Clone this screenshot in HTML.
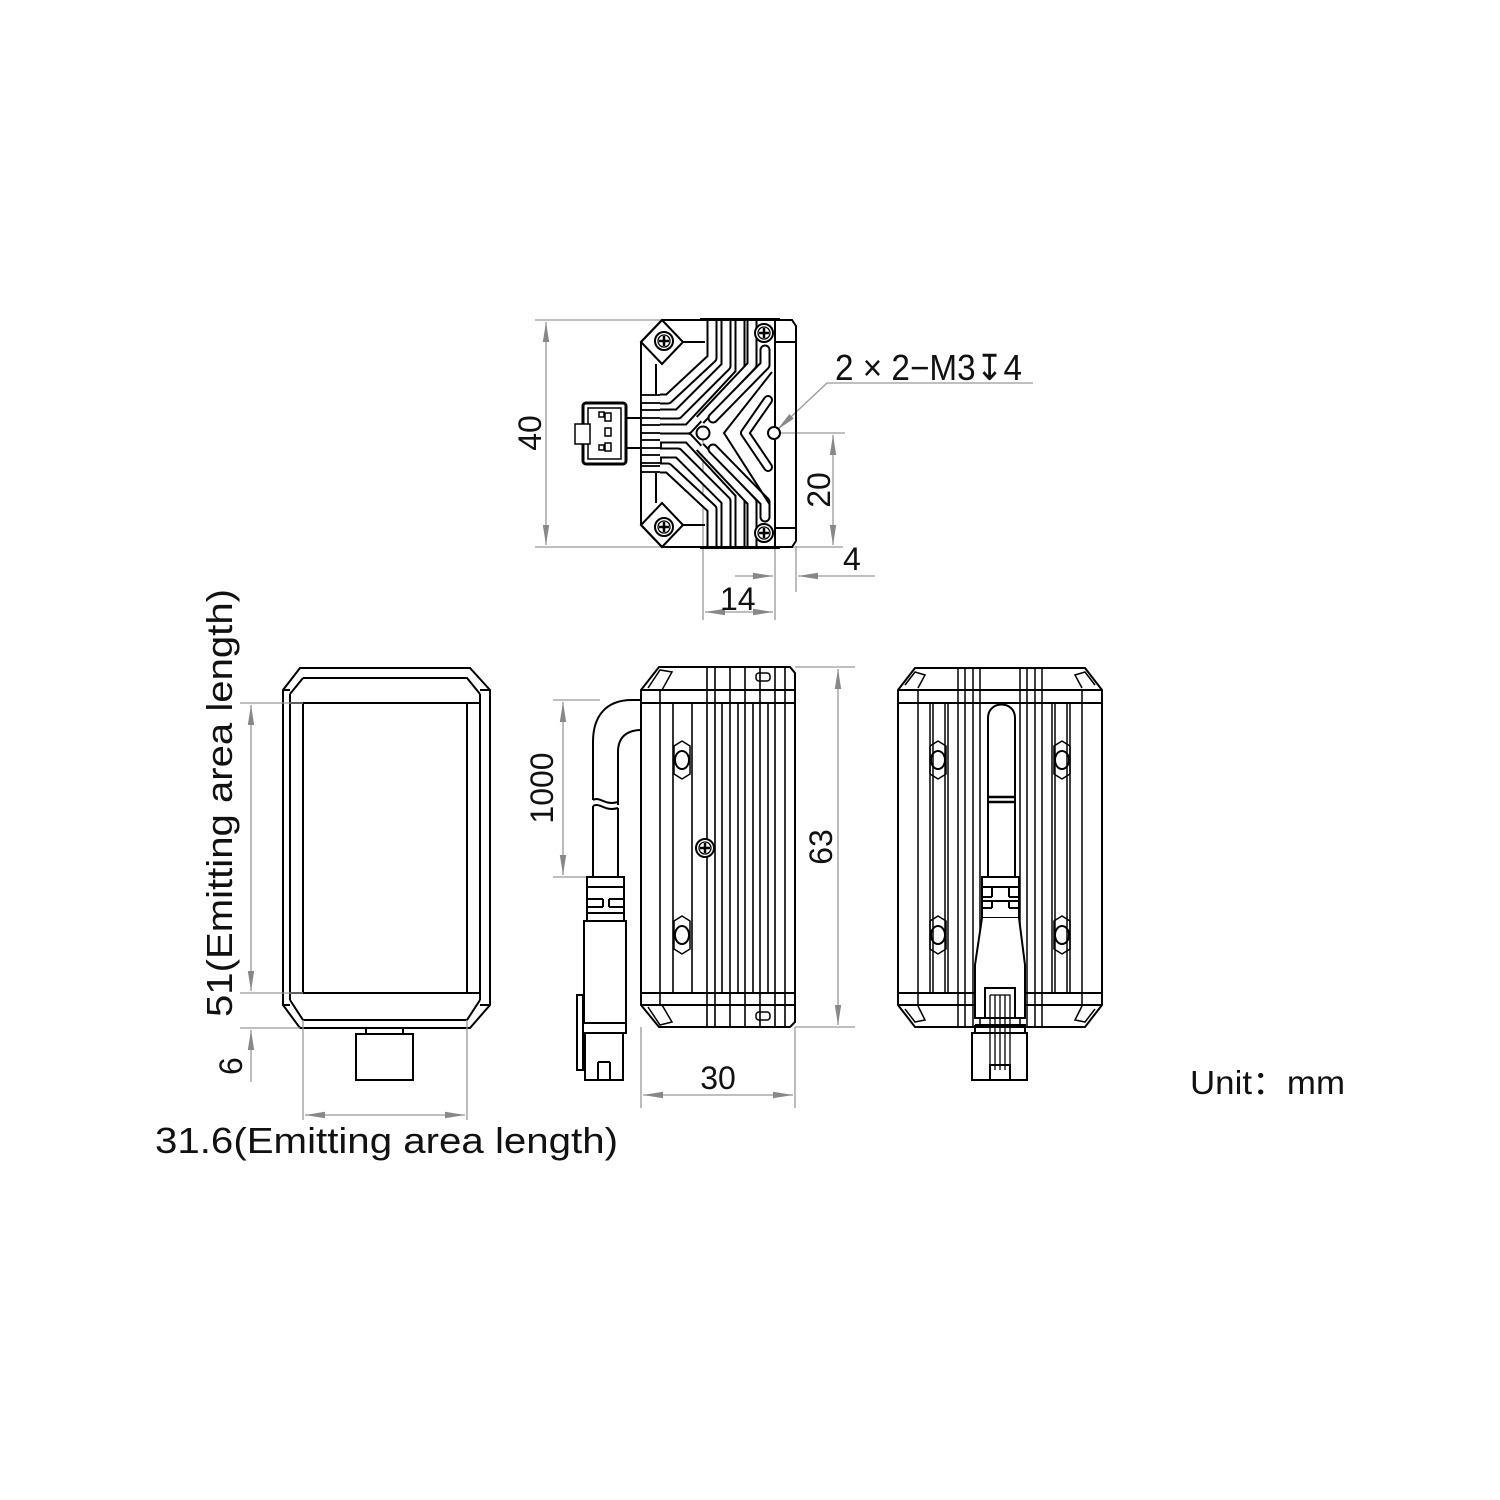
<!DOCTYPE html>
<html><head><meta charset="utf-8"><style>
html,body{margin:0;padding:0;background:#fff;}
svg{display:block;}
text{font-family:"Liberation Sans",sans-serif;fill:#111;}
</style></head><body>
<svg width="1500" height="1500" viewBox="0 0 1500 1500" xmlns="http://www.w3.org/2000/svg">
<defs>
<marker id="ar" viewBox="0 0 10 10" refX="10" refY="5" markerWidth="20" markerHeight="8" markerUnits="userSpaceOnUse" orient="auto-start-reverse" preserveAspectRatio="none"><path d="M0,1 L10,5 L0,9 z" fill="#888"/></marker>
<g id="screw"><circle r="9" fill="#fff" stroke="#000" stroke-width="2"/><circle r="6" fill="none" stroke="#000" stroke-width="1.3"/><path d="M-5,0H5M0,-5V5" stroke="#000" stroke-width="2.5"/></g>
<g id="boss"><path d="M-8,-14 L0,-19 L8,-14 L8,14 L0,19 L-8,14 z" fill="none" stroke="#000" stroke-width="1.5"/><ellipse rx="7" ry="9" fill="none" stroke="#000" stroke-width="2"/></g>
</defs>

<!-- ============ TOP VIEW ============ -->
<g stroke="#999" stroke-width="1.3" fill="none">
<path d="M535,320H662 M535,547H843"/>
<path d="M546,322V545" marker-start="url(#ar)" marker-end="url(#ar)"/>
<path d="M780,433H845"/>
<path d="M833,435V545" marker-start="url(#ar)" marker-end="url(#ar)"/>
<path d="M703,440V620 M775,440V620 M796,547V592"/>
<path d="M705,612H773" marker-start="url(#ar)" marker-end="url(#ar)"/>
<path d="M735,576H773" marker-end="url(#ar)"/>
<path d="M875,576H798" marker-end="url(#ar)"/>
<path d="M827,383H1033"/>
<path d="M827,383L777,430" marker-end="url(#ar)"/>
</g>
<g stroke="#000" stroke-width="2" fill="none">
<path d="M641,342 L662,320 L792,320 L796,326 L796,541 L792,547 L662,547 L641,525 Z"/>
<path d="M775,320V547 M775,342H796 M775,528H796"/>
<path d="M641,342 L662,320 L683,342 L662,364 Z"/>
<path d="M641,525 L662,547 L683,525 L662,503 Z"/>
<path d="M656,364V397 M656,473V503"/>
<path d="M683,342H705 M683,525H705"/>
</g>
<g fill="#fff" stroke="#000" stroke-width="1.8">
<rect x="641" y="395" width="20" height="8"/><rect x="641" y="410" width="20" height="8"/>
<rect x="641" y="425" width="20" height="8"/><rect x="641" y="440" width="20" height="8"/>
<rect x="641" y="455" width="20" height="8"/><rect x="641" y="466" width="20" height="6"/>
</g>
<g fill="none" stroke-linecap="butt" stroke-linejoin="round">
<g id="fins">
<path d="M660,399 H668 L712,358 V318" stroke="#000" stroke-width="11"/>
<path d="M660,399 H668 L712,358 V318" stroke="#fff" stroke-width="7"/>
<path d="M660,414 H678 L726,366 V318" stroke="#000" stroke-width="11"/>
<path d="M660,414 H678 L726,366 V318" stroke="#fff" stroke-width="7"/>
<path d="M660,429 H688 L740,373 V318" stroke="#000" stroke-width="11"/>
<path d="M660,429 H688 L740,373 V318" stroke="#fff" stroke-width="7"/>
<path d="M700,420 L752,365 V318" stroke="#000" stroke-width="11"/>
<path d="M700,420 L752,365 V318" stroke="#fff" stroke-width="7"/>
<path d="M713,418 L765,365 V350" stroke="#000" stroke-width="11" stroke-linecap="round"/>
<path d="M713,418 L765,365 V350" stroke="#fff" stroke-width="7" stroke-linecap="round"/>
</g>
<use href="#fins" transform="translate(0,867) scale(1,-1)"/>
<path d="M768,400 L745,433 L768,467" stroke="#000" stroke-width="10" stroke-linecap="round"/>
<path d="M768,400 L745,433 L768,467" stroke="#fff" stroke-width="6" stroke-linecap="round"/>
<path d="M772,372 L724,433 L770,505" stroke="#000" stroke-width="2"/>
</g>
<rect x="700" y="318" width="80" height="3" fill="#000"/>
<rect x="700" y="546" width="80" height="3" fill="#000"/>
<circle cx="703" cy="433" r="6.5" fill="#fff" stroke="#000" stroke-width="2"/>
<circle cx="774" cy="433" r="6" fill="#fff" stroke="#000" stroke-width="2"/>
<use href="#screw" x="664" y="341"/><use href="#screw" x="764" y="333"/>
<use href="#screw" x="664" y="527"/><use href="#screw" x="764" y="533"/>
<g stroke="#000" fill="none">
<path d="M626,418H641 M626,448H641" stroke-width="2"/>
<rect x="583" y="403" width="43" height="61" rx="3" stroke-width="3"/>
<rect x="588" y="408" width="33" height="51" stroke-width="1.5"/>
<rect x="575" y="424" width="15" height="20" fill="#fff" stroke-width="1.5"/>
<rect x="599" y="412" width="5" height="5" stroke-width="1.5"/>
<rect x="605" y="413" width="6" height="8" stroke-width="1.5"/>
<rect x="605" y="428" width="6" height="8" stroke-width="1.5"/>
<rect x="605" y="443" width="6" height="8" stroke-width="1.5"/>
<rect x="599" y="445" width="5" height="5" stroke-width="1.5"/>
</g>
<text x="835" y="380" font-size="36" textLength="187" lengthAdjust="spacingAndGlyphs">2 × 2−M3↧4</text>
<text transform="translate(541,433) rotate(-90)" font-size="32" text-anchor="middle">40</text>
<text transform="translate(830,490) rotate(-90)" font-size="32" text-anchor="middle">20</text>
<text x="843" y="570" font-size="32">4</text>
<text x="720" y="610" font-size="32">14</text>

<!-- ============ FRONT VIEW ============ -->
<g stroke="#000" stroke-width="2" fill="none">
<path d="M300,668 L470,668 L490,690 L490,1005 L470,1028 L300,1028 L283,1005 L283,690 Z"/>
<path d="M303,678 L467,678 L480,694 M303,678 L290,694"/>
<path d="M290,694V1000 M480,694V1000 M283,690H290 M480,690H490 M283,1005H290 M480,1005H490"/>
<path d="M290,703H480 M290,993H480"/>
<path d="M303,703V993 M467,703V993"/>
<path d="M290,1000 L303,1020 L467,1020 L480,1000"/>
<rect x="356" y="1034" width="57" height="46"/>
<path d="M366,1028V1034 M403,1028V1034"/>
</g>
<g stroke="#999" stroke-width="1.3" fill="none">
<path d="M240,703H303 M240,993H303 M240,1028H300"/>
<path d="M251,705V991" marker-start="url(#ar)" marker-end="url(#ar)"/>
<path d="M251,1082V1030" marker-end="url(#ar)"/>
<path d="M303,1020V1120 M467,1020V1120"/>
<path d="M305,1115H465" marker-start="url(#ar)" marker-end="url(#ar)"/>
</g>
<text transform="translate(232,1017) rotate(-90)" font-size="36" textLength="428" lengthAdjust="spacingAndGlyphs">51(Emitting area length)</text>
<text transform="translate(242,1075) rotate(-90)" font-size="32">6</text>
<text x="155" y="1153" font-size="36" textLength="463" lengthAdjust="spacingAndGlyphs">31.6(Emitting area length)</text>

<!-- ============ SIDE VIEW ============ -->
<g stroke="#999" stroke-width="1.3" fill="none">
<path d="M553,700H600 M553,877H590"/>
<path d="M563,702V875" marker-start="url(#ar)" marker-end="url(#ar)"/>
<path d="M795,667H855 M795,1027H855"/>
<path d="M838,669V1025" marker-start="url(#ar)" marker-end="url(#ar)"/>
<path d="M641,1027V1108 M795,1027V1108"/>
<path d="M643,1095H793" marker-start="url(#ar)" marker-end="url(#ar)"/>
</g>
<g stroke="#000" stroke-width="2" fill="none">
<path d="M641,690 L659,667 L790,667 L795,673 L795,1022 L790,1027 L659,1027 L641,1005 Z"/>
<path d="M641,690H795 M641,703H795 M641,993H795 M641,1005H795"/>
<path d="M660,690V1005 M673,703V993 M692,703V993 M707,667V1027 M715,667V1027 M722,703V993 M730,667V1027 M738,703V993 M745,667V1027 M753,703V993 M760,667V1027 M768,703V993 M775,667V1027 M785,667V1027" stroke-width="1.6"/>
<path d="M648,688 L660,670 L672,672 L662,690" stroke-width="1.5"/>
<path d="M648,1007 L660,1025 L672,1022 L662,1005" stroke-width="1.5"/>
<rect x="756" y="673" width="14" height="8" rx="3" stroke-width="1.5"/>
<rect x="756" y="1012" width="14" height="8" rx="3" stroke-width="1.5"/>
<path d="M641,700 H632 C606,700 593,716 593,742 V800 M618,805 V752 C618,738 626,730 641,730"/>
<path d="M593,800 C600,796 605,806 618,802 M593,806 C600,802 605,812 618,808"/>
<path d="M593,806V877 M618,808V877"/>
<rect x="587" y="877" width="37" height="44"/>
<path d="M587,887H624 M587,899H603 M609,899H624 M587,907H603 M609,907H624 M603,899V907 M609,899V907 M587,913H624"/>
<rect x="584" y="921" width="42" height="102"/>
<path d="M577,995 H583 V1070 H577 Z"/>
<path d="M583,1023 H626 V1033 H583"/>
<rect x="585" y="1033" width="38" height="47"/>
<path d="M598,1080V1062 M610,1080V1062 M598,1062H610"/>
</g>
<use href="#boss" x="682" y="760"/><use href="#boss" x="682" y="935"/>
<use href="#screw" x="705" y="848"/>
<text transform="translate(553,788) rotate(-90)" font-size="32" text-anchor="middle">1000</text>
<text transform="translate(832,847) rotate(-90)" font-size="32" text-anchor="middle">63</text>
<text x="718" y="1089" font-size="32" text-anchor="middle">30</text>

<!-- ============ REAR VIEW ============ -->
<g stroke="#000" stroke-width="2" fill="none">
<path d="M898,690 L915,668 L1085,668 L1102,690 L1102,1005 L1085,1027 L915,1027 L898,1005 Z"/>
<path d="M898,690H1102 M898,703H1102 M898,993H1102 M898,1005H1102"/>
<path d="M918,690V1005 M930,703V993 M933,703V993 M945,703V993 M948,703V993 M958,668V1027 M965,668V1027 M973,668V1027 M980,668V1027 M1020,668V1027 M1027,668V1027 M1035,668V1027 M1042,668V1027 M1052,703V993 M1055,703V993 M1067,703V993 M1070,703V993 M1082,690V1005" stroke-width="1.5"/>
<path d="M905,685 L915,672 L925,675 L918,688" stroke-width="1.5"/>
<path d="M1095,685 L1085,672 L1075,675 L1082,688" stroke-width="1.5"/>
<path d="M905,1009 L915,1022 L925,1020 L918,1006" stroke-width="1.5"/>
<path d="M1095,1009 L1085,1022 L1075,1020 L1082,1006" stroke-width="1.5"/>
<path d="M988,877 V718 C988,700 1015,700 1015,718 V877" fill="#fff"/>
<path d="M988,797 H1015 M988,802H1015" stroke-width="2.5"/>
<rect x="982" y="877" width="37" height="41" fill="#fff"/>
<path d="M982,887H1019 M982,897H992 M1009,897H1019 M982,901H1019 M982,908H992 M1009,908H1019 M992,887V897 M1009,887V897 M992,901V908 M1009,901V908"/>
<path d="M982,918 L975,965 V1018 H1025 V965 L1019,918" fill="#fff"/>
<path d="M985,1018 V988 H1015 V1018"/>
<rect x="972" y="1033" width="55" height="47" fill="#fff"/>
<path d="M975,1025H1025 V1033 M975,1025V1033"/>
<path d="M990,995V1070 M995,995V1070 M1000,995V1070 M1005,995V1070 M990,995H1010 V1070" stroke-width="1.3"/>
<rect x="990" y="1065" width="20" height="15"/>
</g>
<use href="#boss" x="938" y="760"/><use href="#boss" x="1062" y="760"/>
<use href="#boss" x="938" y="935"/><use href="#boss" x="1062" y="935"/>

<text x="1190" y="1094" font-size="33" textLength="155" lengthAdjust="spacingAndGlyphs">Unit：mm</text>
</svg>
</body></html>
